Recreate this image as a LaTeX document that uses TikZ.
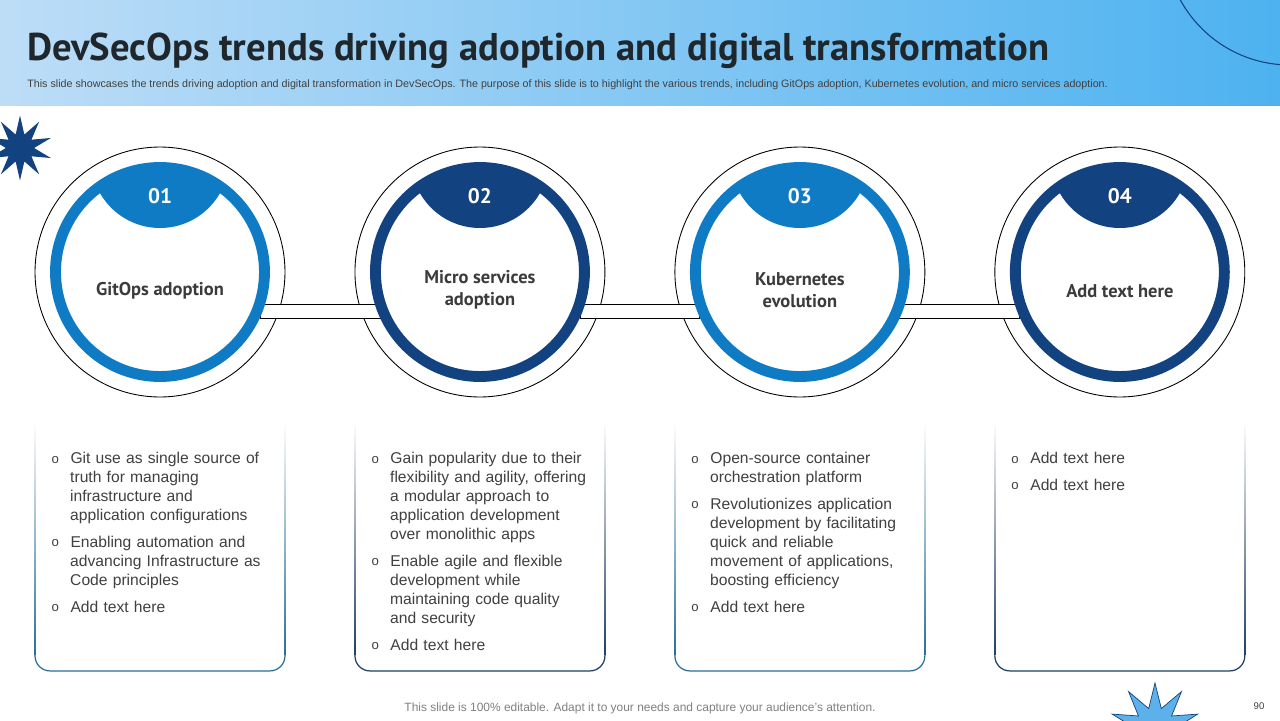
\documentclass[tikz,border=0pt]{standalone}
\usepackage{fontspec}
\setmainfont{Liberation Sans}
\newfontfamily\headfont{PT Sans}
\usetikzlibrary{positioning, calc, shapes.geometric}
\usepackage{xcolor}

\definecolor{hdrL}{HTML}{BDDDF7}
\definecolor{hdrM}{HTML}{C8E8FC}
\definecolor{hdrR}{HTML}{4DB2F0}
\definecolor{ringA}{HTML}{0F7BC5}
\definecolor{ringB}{HTML}{12427F}
\definecolor{boxA}{HTML}{2B6E99}
\definecolor{boxB}{HTML}{1E3F66}
\definecolor{burstlight}{HTML}{5DB1EA}
\definecolor{titlegray}{HTML}{1F262C}
\definecolor{labelgray}{HTML}{3B3B3B}
\definecolor{bodygray}{HTML}{404040}

\newcommand{\trendlist}[1]{%
	\begin{list}{\raisebox{0.4pt}{\fontsize{7.5}{7.5}\selectfont o}}{%
		\setlength{\leftmargin}{11.3pt}\setlength{\labelwidth}{4pt}%
		\setlength{\labelsep}{6.6pt}\setlength{\itemsep}{4.5pt}%
		\setlength{\parsep}{0pt}\setlength{\topsep}{0pt}\setlength{\partopsep}{0pt}}%
	#1\end{list}}

\begin{document}
\begin{tikzpicture}[
	x=0.02cm, y=0.02cm,
	outercircle/.style={circle, draw, line width=0.5pt, fill=white, minimum size=5cm, inner sep=0, outer sep=0},
	ring/.style={line width=6.2pt},
	band/.style={draw, line width=0.5pt, fill=white},
	trendbox/.style={rectangle, minimum width=5cm, minimum height=5.02cm, inner sep=0, outer sep=0},
	numlabel/.style={text=white, font=\headfont\bfseries\fontsize{12}{12}\selectfont},
	circlabel/.style={text=labelgray, align=center, font=\headfont\bfseries\fontsize{10.5}{12.5}\selectfont},
	bullets/.style={anchor=north west, inner sep=0, text width=4.6cm, text=bodygray, font=\fontsize{8.9}{10.8}\selectfont},
	burst/.style={star, star points=10, star point ratio=2.3, inner sep=0},
	every node/.style={align=center}
	]
	\useasboundingbox (0,0) rectangle (1280,-720);
	\fill[white] (0,0) rectangle (1280,-720);
	% header
	\shade[left color=hdrL, middle color=hdrM, right color=hdrR] (0,0) rectangle (1280,-105);
	\begin{scope}
		\clip (0,0) rectangle (1280,-105);
		\draw[ringB, line width=0.6pt] (1290,60) circle (125);
	\end{scope}
	\node[anchor=base west, inner sep=0, text=titlegray, font=\headfont\bfseries\fontsize{22}{22}\selectfont] (title) at (27,-60) {DevSecOps trends driving adoption and digital transformation};
	\node[anchor=base west, inner sep=0, text=bodygray, font=\fontsize{6.1}{6.1}\selectfont] (sub) at (27,-87) {This slide showcases the trends driving adoption and digital transformation in DevSecOps. The purpose of this slide is to highlight the various trends, including GitOps adoption, Kubernetes evolution, and micro services adoption.};
	\node[burst, fill=ringB, minimum size=1.3cm] (burst1) at (20,-148) {};
	% circles
	\node[outercircle] (c1) at (160,-272) {};
	\node[outercircle, right=1.4cm of c1] (c2) {};
	\node[outercircle, right=1.4cm of c2] (c3) {};
	\node[outercircle, right=1.4cm of c3] (c4) {};
	\foreach \a/\b in {1/2, 2/3, 3/4}
		\draw[band] ($(c\a)+(100,-32)$) rectangle ($(c\b)+(-100,-46)$);
	\foreach \i/\col/\num in {1/ringA/01, 2/ringB/02, 3/ringA/03, 4/ringB/04} {
		\draw[ring, \col] (c\i) circle (104.5);
		\begin{scope}
			\clip (c\i) circle (100);
			\fill[\col] ($(c\i)+(0,113)$) circle (69);
		\end{scope}
		\node[numlabel] (n\i) at ($(c\i)+(0,76)$) {\num};
	}
	\node[circlabel] (l1) at ($(c1)+(0,-19)$) {GitOps adoption};
	\node[circlabel] (l2) at ($(c2)+(0,-18)$) {Micro services\\adoption};
	\node[circlabel] (l3) at ($(c3)+(0,-18)$) {Kubernetes\\evolution};
	\node[circlabel] (l4) at ($(c4)+(0,-19)$) {Add text here};
	% boxes
	\foreach \i/\col in {1/boxA, 2/boxB, 3/boxA, 4/boxB} {
		\node[trendbox, below=0.46cm of c\i] (b\i) {};
		\shade[top color=white, bottom color=\col] ($(b\i.north west)+(-0.6,0)$) rectangle ($(b\i.south west)+(0.6,15)$);
		\shade[top color=white, bottom color=\col] ($(b\i.north east)+(-0.6,0)$) rectangle ($(b\i.south east)+(0.6,15)$);
		\draw[\col, line width=0.7pt] ($(b\i.south west)+(0,15)$) arc[start angle=180, end angle=270, radius=15] -- ($(b\i.south east)+(-15,0)$) arc[start angle=270, end angle=360, radius=15];
	}
	\node[bullets] (t1) at ($(b1.north west)+(15,-24.5)$) {\trendlist{
		\item Git use as single source of\\truth for managing\\infrastructure and\\application configurations
		\item Enabling automation and\\advancing Infrastructure as\\Code principles
		\item Add text here}};
	\node[bullets] (t2) at ($(b2.north west)+(15,-24.5)$) {\trendlist{
		\item Gain popularity due to their\\flexibility and agility, offering\\a modular approach to\\application development\\over monolithic apps
		\item Enable agile and flexible\\development while\\maintaining code quality\\and security
		\item Add text here}};
	\node[bullets] (t3) at ($(b3.north west)+(15,-24.5)$) {\trendlist{
		\item Open-source container\\orchestration platform
		\item Revolutionizes application\\development by facilitating\\quick and reliable\\movement of applications,\\boosting efficiency
		\item Add text here}};
	\node[bullets] (t4) at ($(b4.north west)+(15,-24.5)$) {\trendlist{
		\item Add text here
		\item Add text here}};
	% footer
	\node[burst, star point ratio=2.2, fill=burstlight, draw=ringB, line width=0.4pt, minimum size=1.8cm] (burst2) at (1155,-728) {};
	\node[text=gray, font=\fontsize{6.8}{6.8}\selectfont] (foot) at (640,-708) {This slide is 100\% editable. Adapt it to your needs and capture your audience's attention.};
	\node[text=bodygray, font=\fontsize{5.5}{5.5}\selectfont] (page) at (1259,-706) {90};
\end{tikzpicture}
\end{document}
